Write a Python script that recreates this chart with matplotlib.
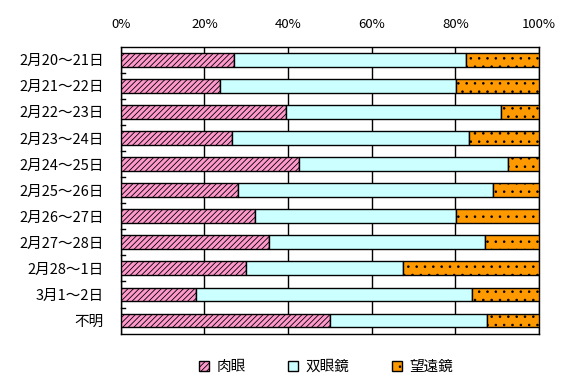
import matplotlib
matplotlib.use('Agg')
import matplotlib.pyplot as plt
import numpy as np

plt.rcParams['font.family'] = ['Noto Sans CJK JP', 'DejaVu Sans']
plt.rcParams['hatch.linewidth'] = 0.6

# categories (top to bottom)
periods = ['2月20～21日', '2月21～22日', '2月22～23日', '2月23～24日', '2月24～25日',
           '2月25～26日', '2月26～27日', '2月27～28日', '2月28～1日', '3月1～2日', '不明']

# share of observations, percent
naked_eye = [27.2, 23.8, 39.4, 26.5, 42.7, 28.1, 32.2, 35.5, 30.0, 18.1, 50.1]
binoculars = [55.3, 56.4, 51.4, 56.7, 50.0, 60.8, 48.0, 51.5, 37.6, 66.0, 37.4]
telescope = [17.5, 19.8, 9.2, 16.8, 7.3, 11.1, 19.8, 13.0, 32.4, 15.9, 12.5]

series_names = ['肉眼', '双眼鏡', '望遠鏡']

fig = plt.figure(figsize=(5.74, 3.92), dpi=100)
ax = fig.add_axes([0.2103, 0.149, 0.7287, 0.732])

y = np.arange(len(periods))
h = 0.53

ax.barh(y, naked_eye, height=h, color='#ff99cc', edgecolor='black', linewidth=1.0,
        hatch='//////', label=series_names[0], zorder=3)
left2 = np.array(naked_eye)
ax.barh(y, binoculars, left=left2, height=h, color='#ccffff', edgecolor='black',
        linewidth=1.0, label=series_names[1], zorder=3)
left3 = left2 + np.array(binoculars)
ax.barh(y, telescope, left=left3, height=h, color='#ff9900', edgecolor='black',
        linewidth=1.0, hatch='..', label=series_names[2], zorder=3)

ax.set_xlim(0, 100)
ax.set_ylim(len(periods) - 0.5, -0.5)
ax.set_xticks([0, 20, 40, 60, 80, 100])
ax.set_xticklabels(['%d%%' % v for v in [0, 20, 40, 60, 80, 100]], fontsize=9.5)
ax.xaxis.tick_top()
ax.tick_params(axis='x', length=0, pad=11)
ax.grid(axis='x', color='black', linewidth=1.0, zorder=0)

ax.set_yticks(y)
ax.set_yticklabels(periods, fontsize=10.5)
ax.tick_params(axis='y', length=0, pad=12)
# small inward ticks at category boundaries
for b in np.arange(0.5, len(periods) - 0.5, 1.0):
    ax.plot([0, 1.0], [b, b], color='black', linewidth=1.0, zorder=4, clip_on=False)

for s in ax.spines.values():
    s.set_color('black')
    s.set_linewidth(1.0)

leg = fig.legend(loc='center', bbox_to_anchor=(0.568, 0.064), ncol=3, frameon=False,
                 fontsize=10.5, handlelength=0.7, handleheight=0.7, handletextpad=0.5,
                 columnspacing=2.9)

fig.savefig('out.png', dpi=100)
